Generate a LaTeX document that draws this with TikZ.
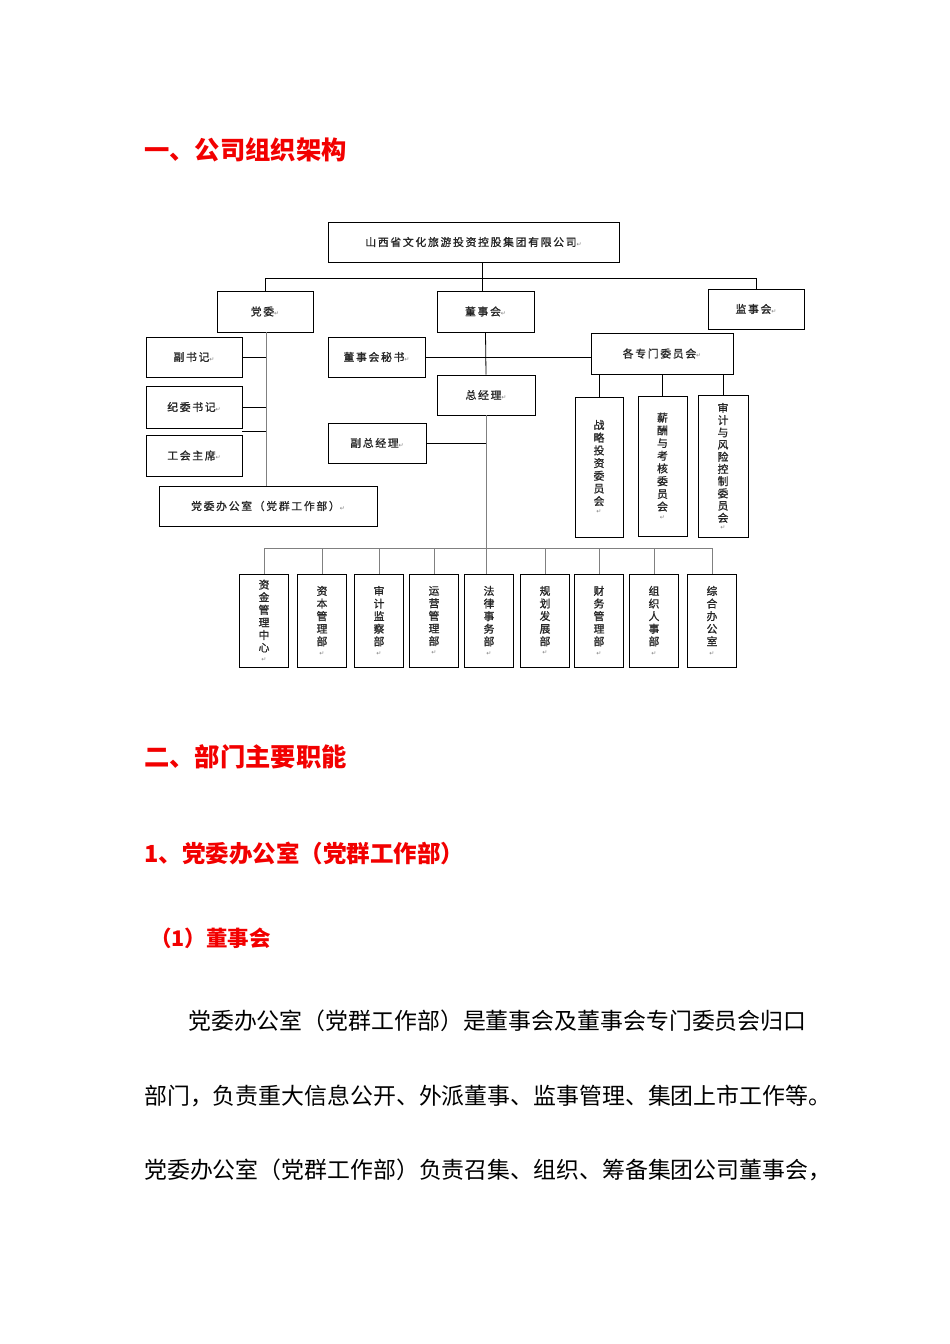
\documentclass[tikz,border=0pt]{standalone}
\usepackage{fontspec}
\usepackage{xcolor}
\newfontfamily\cjk{Noto Sans CJK SC}
\newfontfamily\cjkls{Noto Sans CJK SC}[LetterSpace=16, FakeBold=1.2]
\newfontfamily\cjkv{Noto Sans CJK SC}[FakeBold=1.2]
\newfontfamily\dejavu{DejaVu Sans}
\newcommand\retmark{{\dejavu\fontsize{6}{6}\selectfont\textcolor{gray}{↵}}}
\definecolor{headred}{HTML}{F20000}
\definecolor{linegray}{HTML}{808080}
\tikzset{
  orgbox/.style={draw, line width=0.9pt, inner sep=0pt, font=\cjkls\fontsize{10.8}{13}\selectfont, text=black!85},
  vbox/.style={orgbox, align=center, font=\cjkv\fontsize{10.8}{12.7}\selectfont},
  dbox/.style={orgbox, align=center, font=\cjkv\fontsize{10.8}{12.6}\selectfont, minimum width=49pt, minimum height=93pt},
  conn/.style={line width=0.8pt, black},
  gconn/.style={line width=1pt, linegray},
  heading/.style={anchor=west, inner sep=0pt, text=headred, font=\cjk\bfseries\fontsize{25.3}{25.3}\selectfont},
  subheading/.style={anchor=west, inner sep=0pt, text=headred, font=\cjk\bfseries\fontsize{23.5}{23.5}\selectfont},
  body/.style={anchor=west, inner sep=0pt, text=black, font=\cjk\fontsize{22.9}{22.9}\selectfont}
}
\begin{document}
\begin{tikzpicture}[x=1pt, y=-1pt]
\useasboundingbox (0,0) rectangle (950,1344);
\fill[white] (0,0) rectangle (950,1344);

% headings
\node[heading] (h1) at (144,150) {一、公司组织架构};
\node[heading] (h2) at (144,757) {二、部门主要职能};
\node[subheading] (h3) at (144,853) {1、党委办公室（党群工作部）};
\node[subheading, font=\cjk\bfseries\fontsize{21.5}{21.5}\selectfont] (h4) at (150,938) {（1）董事会};

% body text
\node[body] (b1) at (188,1021) {党委办公室（党群工作部）是董事会及董事会专门委员会归口};
\node[body] (b2) at (144,1096) {部门，负责重大信息公开、外派董事、监事管理、集团上市工作等。};
\node[body] (b3) at (144,1170) {党委办公室（党群工作部）负责召集、组织、筹备集团公司董事会，};

% org chart boxes
\node[orgbox, minimum width=291pt, minimum height=40pt] (top) at (473.5,242) {山西省文化旅游投资控股集团有限公司\retmark};
\node[orgbox, minimum width=96pt, minimum height=41pt] (dangwei) at (265,311.5) {党委\retmark};
\node[orgbox, minimum width=97pt, minimum height=41pt] (dongshi) at (485.5,311.5) {董事会\retmark};
\node[orgbox, minimum width=96pt, minimum height=40pt] (jianshi) at (756,309) {监事会\retmark};
\node[orgbox, minimum width=96pt, minimum height=40pt] (fushuji) at (194,357) {副书记\retmark};
\node[orgbox, minimum width=96pt, minimum height=42pt] (jiwei) at (194,407) {纪委书记\retmark};
\node[orgbox, minimum width=96pt, minimum height=41pt] (gonghui) at (194,455.5) {工会主席\retmark};
\node[orgbox, minimum width=218pt, minimum height=40pt] (dwoffice) at (268,506) {党委办公室（党群工作部）\retmark};
\node[orgbox, minimum width=97pt, minimum height=40pt] (mishu) at (376.5,357) {董事会秘书\retmark};
\node[orgbox, minimum width=98pt, minimum height=40pt] (zjl) at (486,395) {总经理\retmark};
\node[orgbox, minimum width=142pt, minimum height=41pt] (zhuanmen) at (662,353.5) {各专门委员会\retmark};
\node[orgbox, minimum width=98pt, minimum height=40pt] (fzjl) at (377,443) {副总经理\retmark};

% committees
\node[vbox, minimum width=48pt, minimum height=140pt] (c1) at (599,467) {战\\略\\投\\资\\委\\员\\会\\[-4pt]\retmark};
\node[vbox, minimum width=49pt, minimum height=140pt] (c2) at (662.5,466) {薪\\酬\\与\\考\\核\\委\\员\\会\\[-4pt]\retmark};
\node[vbox, minimum width=50pt, minimum height=142pt, font=\cjkv\fontsize{10.8}{12.2}\selectfont] (c3) at (723,466) {审\\计\\与\\风\\险\\控\\制\\委\\员\\会\\[-5pt]\retmark};

% departments
\node[dbox] (d1) at (264,620.5) {资\\金\\管\\理\\中\\心\\[-3pt]\retmark};
\node[dbox] (d2) at (322,620.5) {资\\本\\管\\理\\部\\[-3pt]\retmark};
\node[dbox] (d3) at (379,620.5) {审\\计\\监\\察\\部\\[-3pt]\retmark};
\node[dbox] (d4) at (434,620.5) {运\\营\\管\\理\\部\\[-3pt]\retmark};
\node[dbox] (d5) at (489,620.5) {法\\律\\事\\务\\部\\[-3pt]\retmark};
\node[dbox] (d6) at (545,620.5) {规\\划\\发\\展\\部\\[-3pt]\retmark};
\node[dbox] (d7) at (599,620.5) {财\\务\\管\\理\\部\\[-3pt]\retmark};
\node[dbox] (d8) at (654,620.5) {组\\织\\人\\事\\部\\[-3pt]\retmark};
\node[dbox] (d9) at (712,620.5) {综\\合\\办\\公\\室\\[-3pt]\retmark};

% connectors: top level
\coordinate (hbar) at (482,278);
\draw[conn] (top.south -| hbar) -- (hbar);
\draw[conn] (dangwei.north) -- (dangwei.north |- hbar) -| (jianshi.north);
\draw[conn] (hbar) -- (hbar |- dongshi.north);

% party committee spine
\coordinate (sp1) at (266,332);
\draw[gconn] (sp1) -- (sp1 |- dwoffice.north);
\draw[conn] (fushuji.east) -- (fushuji.east -| sp1);
\draw[conn] (jiwei.east) -- (jiwei.east -| sp1);
\draw[conn] ([yshift=3pt]gonghui.north east) -- ([yshift=3pt]gonghui.north east -| sp1);

% board spine
\draw[conn] (dongshi.south) -- (zjl.north);
\draw[conn] (mishu.east) -- (mishu.east -| zhuanmen.west);
\draw[conn] (c1.north |- zhuanmen.south) -- (c1.north);
\draw[conn] (c2.north |- zhuanmen.south) -- (c2.north);
\draw[conn] (c3.north |- zhuanmen.south) -- (c3.north);

% general manager spine
\coordinate (bbar) at (0,548);
\draw[gconn] (zjl.south) -- (zjl.south |- d5.north);
\draw[conn] (fzjl.east) -- (fzjl.east -| zjl.south);
\draw[gconn] (d1.north) -- (d1.north |- bbar) -| (d9.north);
\foreach \d in {d2,d3,d4,d6,d7,d8}{
  \draw[gconn] (\d.north) -- (\d.north |- bbar);
}
\end{tikzpicture}
\end{document}
